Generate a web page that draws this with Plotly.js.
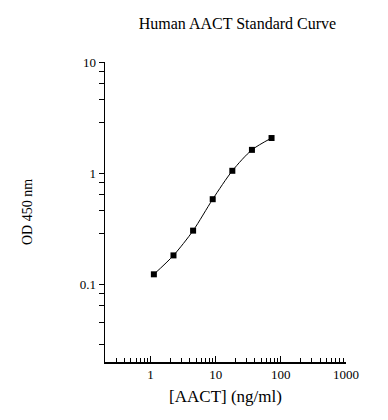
<!DOCTYPE html>
<html>
<head>
<meta charset="utf-8">
<script src="https://cdn.plot.ly/plotly-3.0.1.min.js"></script>
<style>html,body{margin:0;padding:0;background:#fff;}#chart{width:388px;height:420px;}</style>
</head>
<body>
<div id="chart"></div>
<script>
const concentration = [1.125, 2.25, 4.5, 9, 18, 36, 72];
const od450 = [0.123, 0.182, 0.304, 0.583, 1.05, 1.62, 2.07];
const xTickVals = [1, 10, 100, 1000];
const xTickText = ["1", "10", "100", "1000"];
const yTickVals = [0.1, 1, 10];
const yTickText = ["0.1", "1", "10"];
const xMinorVals = [0.3,0.4,0.5,0.6,0.7,0.8,0.9,2,3,4,5,6,7,8,9,20,30,40,50,60,70,80,90,200,300,400,500,600,700,800,900];
const yMinorVals = [0.0288,0.0457,0.0645,0.082,0.288,0.457,0.645,0.82,2.88,4.57,6.45,8.2];

const font = {family: "'Liberation Serif', 'Times New Roman', Times, serif", color: "#000000"};

const trace = {
  x: concentration,
  y: od450,
  mode: "lines+markers",
  type: "scatter",
  line: {color: "#000", width: 1, shape: "spline", smoothing: 0.8},
  marker: {symbol: "square", size: 6, color: "#000"},
  hoverinfo: "x+y"
};

const layout = {
  width: 388, height: 420,
  margin: {l: 105, r: 42, t: 62, b: 58},
  paper_bgcolor: "#fff", plot_bgcolor: "#fff",
  showlegend: false,
  font: Object.assign({size: 13}, font),
  title: {text: "Human AACT Standard Curve", font: Object.assign({size: 16}, font), x: 0.612, xanchor: "center", y: 0.945, yanchor: "middle"},
  xaxis: {
    type: "log", range: [Math.log10(0.2), 3],
    showgrid: false, zeroline: false,
    showline: true, linecolor: "#000", linewidth: 1.5,
    tickmode: "array", tickvals: xTickVals, ticktext: xTickText,
    ticks: "inside", ticklen: 6, tickwidth: 1, tickcolor: "#000",
    tickfont: Object.assign({size: 13}, font),
    minor: {tickmode: "array", tickvals: xMinorVals, ticks: "inside", ticklen: 4, tickwidth: 1, tickcolor: "#000", showgrid: false},
    title: {text: "[AACT] (ng/ml)", font: Object.assign({size: 17}, font), standoff: 9}
  },
  yaxis: {
    type: "log", range: [Math.log10(0.02), 1],
    showgrid: false, zeroline: false,
    showline: true, linecolor: "#000", linewidth: 1.5,
    tickmode: "array", tickvals: yTickVals, ticktext: yTickText,
    ticks: "outside", ticklen: 5, tickwidth: 1, tickcolor: "#000",
    tickfont: Object.assign({size: 13}, font),
    minor: {tickmode: "array", tickvals: yMinorVals, ticks: "outside", ticklen: 5, tickwidth: 1, tickcolor: "#000", showgrid: false},
    title: {text: "OD 450 nm", font: Object.assign({size: 14}, font), standoff: 44}
  }
};

Plotly.newPlot("chart", [trace], layout, {displayModeBar: false, staticPlot: true});
</script>
</body>
</html>
